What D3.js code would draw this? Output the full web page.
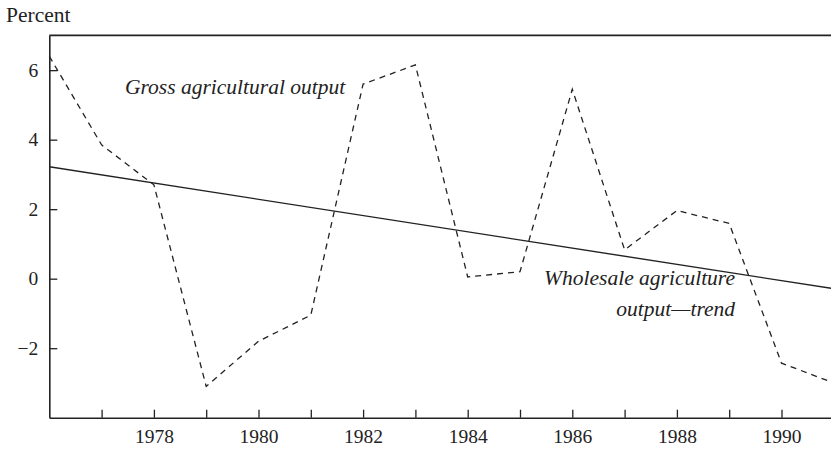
<!DOCTYPE html>
<html>
<head>
<meta charset="utf-8">
<script src="https://cdn.jsdelivr.net/npm/d3@7"></script>
<style>
  body { margin: 0; background: #fff; }
  svg text { font-family: "Liberation Serif", "DejaVu Serif", serif; fill: #222; }
</style>
</head>
<body>
<div id="chart-area"></div>
<script>
// data
var years = [1976, 1977, 1978, 1979, 1980, 1981, 1982, 1983, 1984, 1985, 1986, 1987, 1988, 1989, 1990, 1991];
var grossOutput = [6.4, 3.85, 2.7, -3.1, -1.8, -1.05, 5.6, 6.15, 0.05, 0.2, 5.45, 0.83, 1.96, 1.59, -2.43, -3.0];
var trendYears = [1976, 1991];
var trendValues = [3.22, -0.29];
var yTicks = [-2, 0, 2, 4, 6];
var xTicks = [1977, 1978, 1979, 1980, 1981, 1982, 1983, 1984, 1985, 1986, 1987, 1988, 1989, 1990];
var xLabels = ["1978", "1980", "1982", "1984", "1986", "1988", "1990"];

var W = 831, H = 450;
var ink = "#222";

var svg = d3.select("#chart-area")
    .append("svg")
        .attr("width", W)
        .attr("height", H);

var x = d3.scaleLinear()
    .domain([1976, 1991])
    .range([49.3, 833.8]);

var y = d3.scaleLinear()
    .domain([-4, 7])
    .range([417.7, 35.4]);

// Y label
svg.append("text")
    .attr("x", 6)
    .attr("y", 22)
    .attr("font-size", "21.5px")
    .text("Percent");

// top border
svg.append("line")
    .attr("x1", x(1976)).attr("x2", W)
    .attr("y1", y(7)).attr("y2", y(7))
    .attr("stroke", ink)
    .attr("stroke-width", 1.6);

// X axis
var xAxisCall = d3.axisBottom(x)
    .tickValues(xTicks)
    .tickSizeInner(-8)
    .tickSizeOuter(0)
    .tickPadding(11)
    .tickFormat(function(d){ return xLabels.indexOf(String(d)) >= 0 ? String(d) : ""; });

var xAxisGroup = svg.append("g")
    .attr("transform", "translate(0," + y(-4) + ")")
    .call(xAxisCall);

// Y axis
var yAxisCall = d3.axisLeft(y)
    .tickValues(yTicks)
    .tickSizeInner(-8)
    .tickSizeOuter(0)
    .tickPadding(11);

var yAxisGroup = svg.append("g")
    .attr("transform", "translate(" + x(1976) + ",0)")
    .call(yAxisCall);

[xAxisGroup, yAxisGroup].forEach(function(g){
    g.select(".domain").attr("stroke", ink).attr("stroke-width", 1.6);
    g.selectAll(".tick line").attr("stroke", ink).attr("stroke-width", 1.3);
    g.selectAll(".tick text")
        .attr("font-family", "Liberation Serif, DejaVu Serif, serif")
        .attr("font-size", "19.5px")
        .attr("fill", ink);
});

var plot = svg.append("g");

// trend line
var trendLine = d3.line()
    .x(function(d, i){ return x(trendYears[i]); })
    .y(function(d){ return y(d); });

plot.append("path")
    .attr("d", trendLine(trendValues))
    .attr("fill", "none")
    .attr("stroke", ink)
    .attr("stroke-width", 1.4);

// gross agricultural output
var grossLine = d3.line()
    .x(function(d, i){ return x(years[i]); })
    .y(function(d){ return y(d); });

plot.append("path")
    .attr("d", grossLine(grossOutput))
    .attr("fill", "none")
    .attr("stroke", ink)
    .attr("stroke-width", 1.3)
    .attr("stroke-dasharray", "6,5");

// labels
svg.append("text")
    .attr("x", 125)
    .attr("y", 94)
    .attr("font-size", "21.5px")
    .attr("font-style", "italic")
    .text("Gross agricultural output");

var trendLabel = svg.append("text")
    .attr("text-anchor", "end")
    .attr("font-size", "21.5px")
    .attr("font-style", "italic");

trendLabel.append("tspan")
    .attr("x", 735).attr("y", 285)
    .text("Wholesale agriculture");
trendLabel.append("tspan")
    .attr("x", 735).attr("y", 316)
    .text("output\u2014trend");
</script>
</body>
</html>
